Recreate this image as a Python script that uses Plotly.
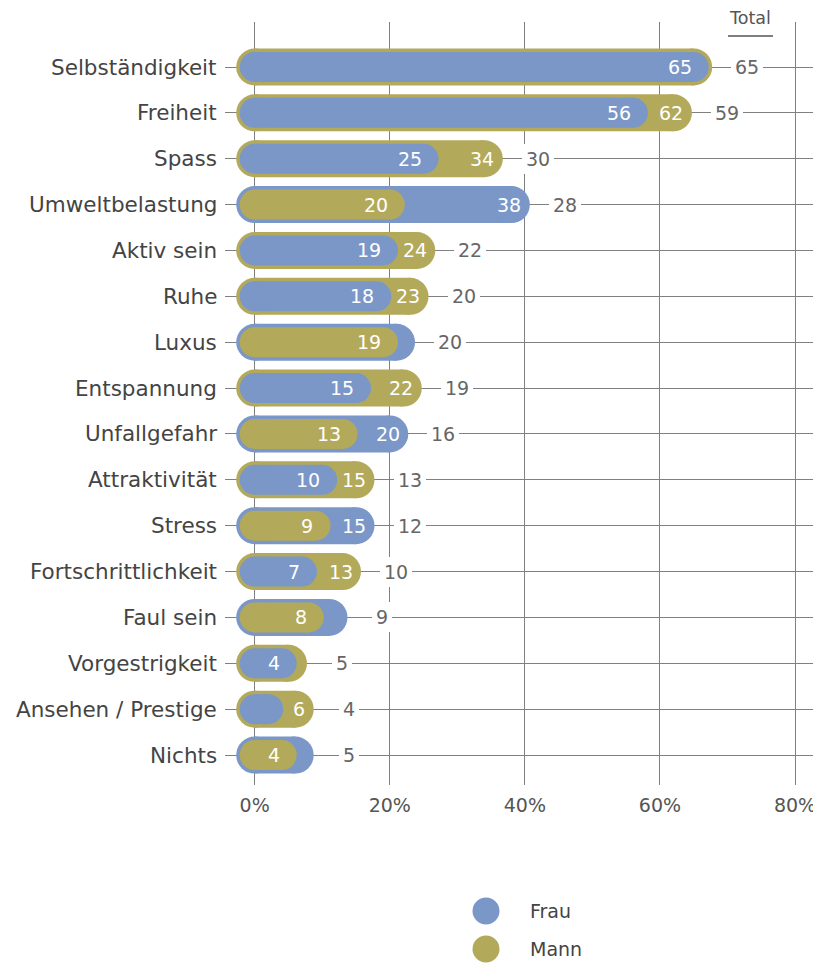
import plotly.graph_objects as go

# ---------------- data ----------------
categories = ["Selbständigkeit", "Freiheit", "Spass", "Umweltbelastung", "Aktiv sein",
              "Ruhe", "Luxus", "Entspannung", "Unfallgefahr", "Attraktivität", "Stress",
              "Fortschrittlichkeit", "Faul sein", "Vorgestrigkeit", "Ansehen / Prestige", "Nichts"]
frau = [65, 56, 25, 38, 19, 18, 21, 15, 20, 10, 15, 7, 11, 4, 2, 6]
mann = [65, 62, 34, 20, 24, 23, 19, 22, 13, 15, 9, 13, 8, 5, 6, 4]
total = [65, 59, 30, 28, 22, 20, 20, 19, 16, 13, 12, 10, 9, 5, 4, 5]
x_ticks = [0, 20, 40, 60, 80]
x_tick_labels = ["0%", "20%", "40%", "60%", "80%"]
series_names = ["Frau", "Mann"]
total_title = "Total"

# ---------------- style ----------------
BLUE = "#7a97c8"
GOLD = "#b3a95a"
GRID = "#808080"
FONT = "DejaVu Sans"
BACK_W = 37
FRONT_W = 30

OFF = 8  # default page body margin
W, H = 821 - OFF, 971 - 2 * OFF


def px(v):
    return v - OFF


ML = px(225)
MT = px(22)
PLOT_BOTTOM = px(785)
MR = 0
MB = H - PLOT_BOTTOM
PX_PER_UNIT = 6.754
ZERO_PX = px(254.7)
ROW0_PX = px(67.0)
ROW_STEP = 45.87

plot_w = W - ML - MR
plot_h = H - MT - MB
x_lo = -(ZERO_PX - ML) / PX_PER_UNIT
x_hi = x_lo + plot_w / PX_PER_UNIT
y_top = (MT - ROW0_PX) / ROW_STEP
y_bot = y_top + plot_h / ROW_STEP


def xpaper(page_x):
    return (px(page_x) - ML) / plot_w


def ypaper(page_y):
    return (PLOT_BOTTOM - px(page_y)) / plot_h


colors = {"Frau": BLUE, "Mann": GOLD}
vals = {"Frau": frau, "Mann": mann}

n = len(categories)
rows = list(range(n))
back_is_mann = [m >= f for f, m in zip(frau, mann)]


def pill_xy(values, mask):
    xs, ys = [], []
    for i, (v, m) in enumerate(zip(values, mask)):
        if m:
            xs += [0, v, None]
            ys += [i, i, None]
    return xs, ys


fig = go.Figure()

layers = [
    ("Mann", back_is_mann, BACK_W),
    ("Frau", [not b for b in back_is_mann], BACK_W),
    ("Mann", [not b for b in back_is_mann], FRONT_W),
    ("Frau", back_is_mann, FRONT_W),
]
for name, mask, width in layers:
    xs, ys = pill_xy(vals[name], mask)
    fig.add_trace(go.Scatter(
        x=xs, y=ys, mode="lines+markers",
        line=dict(color=colors[name], width=width),
        marker=dict(color=colors[name], size=width, line=dict(width=0)),
        hoverinfo="skip", showlegend=False, cliponaxis=False,
    ))

annotations = []
for i in rows:
    f, m = frau[i], mann[i]
    if back_is_mann[i]:
        back, front = m, f
    else:
        back, front = f, m
    if front >= 3:
        annotations.append(dict(x=front, y=i, xref="x", yref="y", text=str(front),
                                showarrow=False, xanchor="right", yanchor="middle",
                                xshift=-2, borderpad=0, borderwidth=0,
                                font=dict(family=FONT, size=19, color="white")))
    if back - front >= 4:
        annotations.append(dict(x=back, y=i, xref="x", yref="y", text=str(back),
                                showarrow=False, xanchor="right", yanchor="middle",
                                xshift=10, borderpad=0, borderwidth=0,
                                font=dict(family=FONT, size=19, color="white")))
    annotations.append(dict(x=back, y=i, xref="x", yref="y", text=str(total[i]),
                            showarrow=False, xanchor="center", yanchor="middle",
                            xshift=53.5, bgcolor="white", borderpad=4, borderwidth=0,
                            font=dict(family=FONT, size=19, color="#666666")))
    annotations.append(dict(x=0, y=i, xref="paper", yref="y", text=categories[i],
                            showarrow=False, xanchor="right", yanchor="middle",
                            xshift=-6, font=dict(family=FONT, size=21.5, color="#444444")))

# Total header
annotations.append(dict(x=xpaper(750), y=ypaper(18), xref="paper", yref="paper",
                        text=total_title, showarrow=False, xanchor="center", yanchor="middle",
                        font=dict(family=FONT, size=17.5, color="#555555")))
shapes = [dict(type="line", xref="paper", yref="paper",
               x0=xpaper(728), x1=xpaper(773), y0=ypaper(36), y1=ypaper(36),
               line=dict(color="#555555", width=1.5))]

# Legend
for k, name in enumerate(series_names):
    cy = 911 + 38 * k
    shapes.append(dict(type="circle", xref="paper", yref="paper",
                       xsizemode="pixel", ysizemode="pixel",
                       xanchor=xpaper(486), yanchor=ypaper(cy),
                       x0=-13.5, x1=13.5, y0=-13.5, y1=13.5,
                       fillcolor=colors[name], line=dict(width=0)))
    annotations.append(dict(x=xpaper(528), y=ypaper(cy), xref="paper", yref="paper",
                            text=name, showarrow=False, xanchor="left", yanchor="middle",
                            font=dict(family=FONT, size=19, color="#444444")))

fig.update_layout(
    width=W, height=H,
    margin=dict(l=ML, r=MR, t=MT, b=MB, pad=0),
    paper_bgcolor="white", plot_bgcolor="white",
    showlegend=False,
    annotations=annotations, shapes=shapes,
    font=dict(family=FONT, color="#555555"),
    xaxis=dict(range=[x_lo, x_hi], tickvals=x_ticks, ticktext=x_tick_labels,
               showgrid=True, gridcolor=GRID, gridwidth=1.3, zeroline=False,
               showline=False, ticks="outside", ticklen=3, tickcolor="rgba(0,0,0,0)",
               tickfont=dict(family=FONT, size=19, color="#555555"), fixedrange=True),
    yaxis=dict(range=[y_bot, y_top], tickvals=rows, showticklabels=False,
               showgrid=True, gridcolor=GRID, gridwidth=1.3, zeroline=False,
               showline=False, fixedrange=True),
)

fig.write_html("out.html")
